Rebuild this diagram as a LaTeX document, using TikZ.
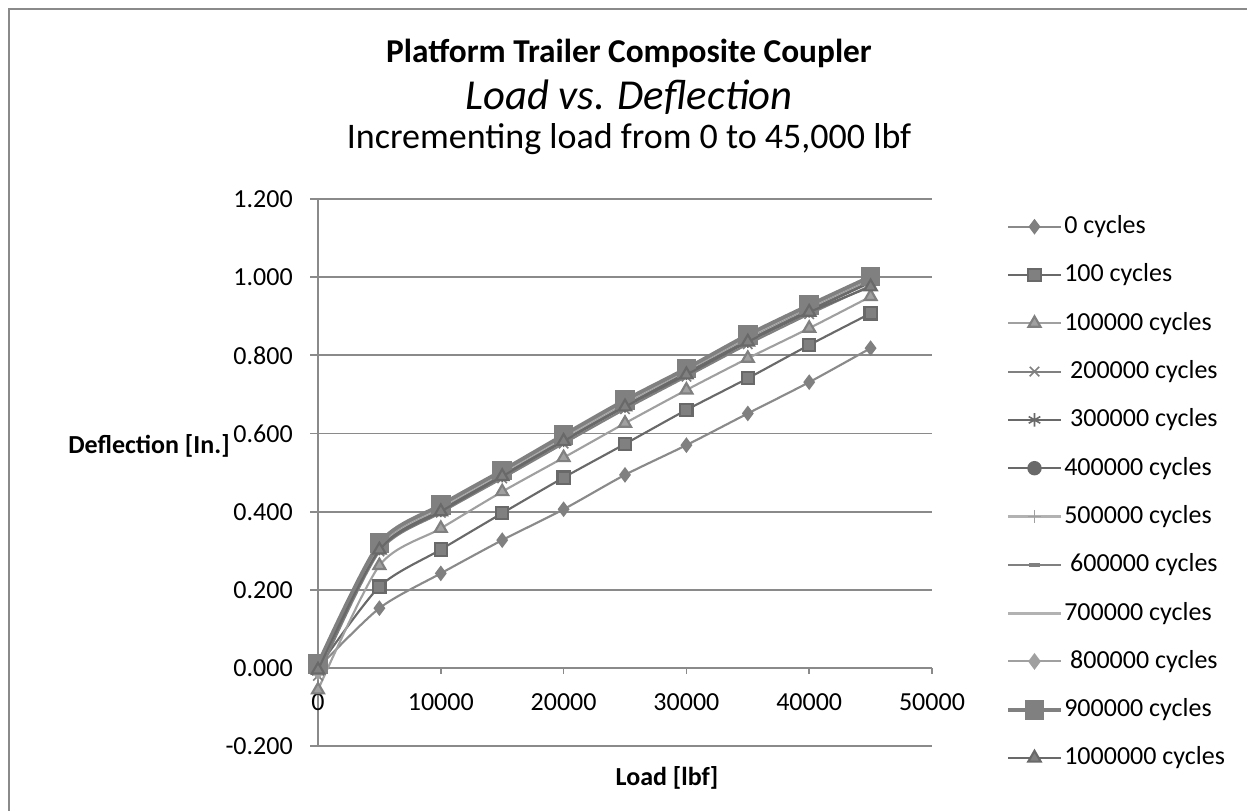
\documentclass[tikz,border=0pt]{standalone}
\usepackage{fontspec}
\setmainfont{Carlito}
\usepackage{tikz}
\usetikzlibrary{plotmarks}
\definecolor{gridgray}{RGB}{138,138,138}
\definecolor{darkgray}{RGB}{105,105,105}
\definecolor{midgray}{RGB}{128,128,128}
\definecolor{litegray}{RGB}{160,160,160}
\definecolor{palegray}{RGB}{178,178,178}

\tikzset{
  gridline/.style={gridgray, line width=1.3pt},
  ticklbl/.style={font=\fontsize{19.5}{22}\selectfont, inner sep=0pt},
  axislbl/.style={font=\bfseries\fontsize{19.5}{22}\selectfont, inner sep=0pt},
  leglbl/.style={font=\fontsize{19.5}{22}\selectfont, anchor=west, inner sep=0pt},
  series/.style={line width=1.6pt, smooth, tension=0.45,
    every mark/.append style={solid, line width=0.8pt}},
  s0/.style={series, gridgray, mark=diamond*, mark size=4.6pt, mark options={fill=midgray, draw=midgray}},
  s1/.style={series, darkgray, mark=square*, mark size=4.6pt, mark options={fill=midgray, draw=darkgray}},
  s2/.style={series, litegray, mark=triangle*, mark size=5.2pt, mark options={fill=litegray, draw=midgray}},
  s3/.style={series, midgray, mark=x, mark size=5pt, mark options={draw=midgray, line width=1.2pt}},
  s4/.style={series, darkgray, mark=asterisk, mark size=5pt, mark options={draw=darkgray, line width=1.2pt}},
  s5/.style={series, darkgray, mark=*, mark size=4.6pt, mark options={fill=darkgray, draw=darkgray}},
  s6/.style={series, palegray, mark=+, mark size=5pt, mark options={draw=litegray, line width=0.8pt}},
  s7/.style={series, midgray, mark=-, mark size=4pt, mark options={draw=midgray, line width=3pt}},
  s8/.style={series, palegray, line width=2.2pt, mark=none},
  s9/.style={series, litegray, mark=diamond*, mark size=5pt, mark options={fill=litegray, draw=litegray}},
  s10/.style={series, midgray, line width=2.8pt, mark=square*, mark size=6pt, mark options={fill=midgray, draw=midgray}},
  s11/.style={series, darkgray, mark=triangle*, mark size=5.4pt, mark options={fill=midgray, draw=darkgray}}
}

\begin{document}
\begin{tikzpicture}[x=0.75pt, y=-0.75pt]
    \useasboundingbox (0,0) rectangle (1247,811);
    % Chart frame
    \draw[gridgray, line width=1pt] (9,811) -- (9,9) -- (1247,9);

    % Titles
    \node[font=\bfseries\fontsize{25}{28}\selectfont] (title) at (629,53) {Platform Trailer Composite Coupler};
    \node[font=\itshape\fontsize{32}{36}\selectfont] (subtitle) at (629,97) {Load vs. Deflection};
    \node[font=\fontsize{27}{30}\selectfont] (note) at (629,139) {Incrementing load from 0 to 45,000 lbf};

    % Gridlines and y ticks
    \foreach \k/\lbl in {0/1.200,1/1.000,2/0.800,3/0.600,4/0.400,5/0.200,6/0.000,7/-0.200}{
      \draw[gridline] (310,199+78.17*\k) -- (932,199+78.17*\k);
      \node[ticklbl, anchor=east] (ytick\k) at (293,199+78.17*\k) {\lbl};
    }
    \draw[gridline] (318,199) -- (318,746);
    % x ticks
    \foreach \k/\lbl in {0/0,1/10000,2/20000,3/30000,4/40000,5/50000}{
      \draw[gridline] (318+122.8*\k,668) -- (318+122.8*\k,674);
      \node[ticklbl] (xtick\k) at (318+122.8*\k,702) {\lbl};
    }

    % Axis titles
    \node[axislbl, anchor=east] (ytitle) at (230,446) {Deflection [In.]};
    \node[axislbl] (xtitle) at (667,778) {Load [lbf]};

    % Data (x in 1000 lbf)
    \begin{scope}[shift={(318,668)}, x=9.21pt, y=293.25pt]
      \draw[s0] plot coordinates {(0,0.0) (5,0.153) (10,0.242) (15,0.327) (20,0.406) (25,0.494) (30,0.570) (35,0.651) (40,0.731) (45,0.818)};
      \draw[s1] plot coordinates {(0,0.0) (5,0.208) (10,0.303) (15,0.396) (20,0.487) (25,0.573) (30,0.660) (35,0.741) (40,0.826) (45,0.907)};
      \draw[s2] plot coordinates {(0,-0.056) (5,0.262) (10,0.357) (15,0.451) (20,0.538) (25,0.626) (30,0.711) (35,0.792) (40,0.869) (45,0.950)};
      \draw[s3] plot coordinates {(0,-0.02) (5,0.298) (10,0.397) (15,0.485) (20,0.574) (25,0.662) (30,0.745) (35,0.828) (40,0.905) (45,0.978)};
      \draw[s4] plot coordinates {(0,-0.01) (5,0.305) (10,0.403) (15,0.492) (20,0.582) (25,0.670) (30,0.753) (35,0.836) (40,0.913) (45,0.986)};
      \draw[s5] plot coordinates {(0,0.0) (5,0.310) (10,0.407) (15,0.496) (20,0.586) (25,0.674) (30,0.758) (35,0.841) (40,0.918) (45,0.991)};
      \draw[s6] plot coordinates {(0,0.01) (5,0.312) (10,0.410) (15,0.499) (20,0.589) (25,0.677) (30,0.761) (35,0.844) (40,0.921) (45,0.994)};
      \draw[s7] plot coordinates {(0,0.005) (5,0.314) (10,0.412) (15,0.501) (20,0.591) (25,0.679) (30,0.763) (35,0.846) (40,0.923) (45,0.996)};
      \draw[s8] plot coordinates {(0,0.0) (5,0.316) (10,0.413) (15,0.502) (20,0.592) (25,0.681) (30,0.764) (35,0.848) (40,0.925) (45,0.998)};
      \draw[s9] plot coordinates {(0,-0.01) (5,0.315) (10,0.414) (15,0.503) (20,0.593) (25,0.682) (30,0.765) (35,0.849) (40,0.926) (45,0.999)};
      \draw[s10] plot coordinates {(0,0.01) (5,0.319) (10,0.417) (15,0.505) (20,0.596) (25,0.685) (30,0.766) (35,0.852) (40,0.928) (45,1.001)};
      \draw[s11] plot coordinates {(0,-0.005) (5,0.302) (10,0.400) (15,0.490) (20,0.580) (25,0.668) (30,0.750) (35,0.834) (40,0.910) (45,0.975)};
    \end{scope}

    % Legend
    \foreach \i/\txt in {0/0 cycles,1/100 cycles,2/100000 cycles,3/{\ 200000 cycles},4/{\ 300000 cycles},5/400000 cycles,6/500000 cycles,7/{\ 600000 cycles},8/700000 cycles,9/{\ 800000 cycles},10/900000 cycles,11/1000000 cycles}{
      \draw[s\i, mark indices={2}] plot coordinates {(1008,226.7+48.3*\i) (1034.5,226.7+48.3*\i) (1061,226.7+48.3*\i)};
      \node[leglbl] (leg\i) at (1064,226.7+48.3*\i) {\txt};
    }
\end{tikzpicture}
\end{document}
